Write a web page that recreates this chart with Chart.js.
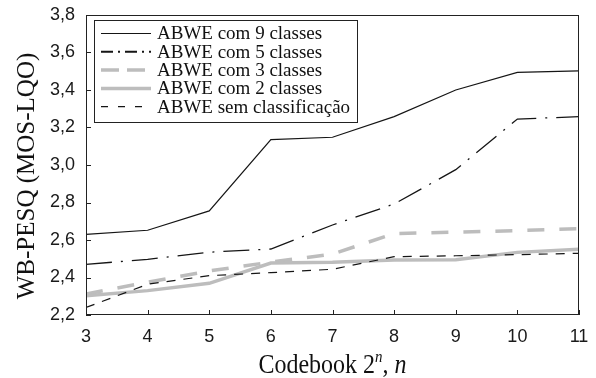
<!DOCTYPE html>
<html>
<head>
<meta charset="utf-8">
<script src="https://cdn.jsdelivr.net/npm/chart.js@4"></script>
<style>
  body { margin: 0; background: #fff; }
  canvas { display: block; }
</style>
</head>
<body>
<canvas id="chart" width="596" height="378"></canvas>
<script>
// valores
const codebookBits = [3, 4, 5, 6, 7, 8, 9, 10, 11];
const seriesNames = ['ABWE com 9 classes', 'ABWE com 5 classes', 'ABWE com 3 classes', 'ABWE com 2 classes', 'ABWE sem classificação'];
const classes9 = [2.630, 2.652, 2.755, 3.135, 3.148, 3.258, 3.400, 3.494, 3.502];
const classes5 = [2.470, 2.497, 2.535, 2.552, 2.680, 2.792, 2.975, 3.245, 3.258];
const classes3 = [2.312, 2.375, 2.435, 2.482, 2.525, 2.634, 2.642, 2.650, 2.660];
const classes2 = [2.302, 2.330, 2.369, 2.477, 2.481, 2.493, 2.495, 2.534, 2.551];
const semClass = [2.240, 2.364, 2.410, 2.426, 2.444, 2.511, 2.516, 2.522, 2.529];
const yTicks = [2.2, 2.4, 2.6, 2.8, 3.0, 3.2, 3.4, 3.6, 3.8];

const gray = '#bdbdbd';
const black = '#151515';

// estilo de cada curva: [cor, espessura, tracejado no gráfico, tracejado na legenda]
const styles = [
    [black, 1.2, [], []],
    [black, 1.3, [26, 9, 2, 9], [12, 5, 2, 5]],
    [gray, 3.5, [17, 15], [18, 8]],
    [gray, 3.5, [], []],
    [black, 1.2, [9, 8], [7, 10]]
];
const allValues = [classes9, classes5, classes3, classes2, semClass];

function points(values) {
    return codebookBits.map((n, i) => ({ x: n, y: values[i] }));
}

const datasets = allValues.map((values, i) => ({
    label: seriesNames[i],
    data: points(values),
    borderColor: styles[i][0],
    borderWidth: styles[i][1],
    borderDash: styles[i][2],
    borderCapStyle: 'butt',
    pointRadius: 0,
    tension: 0,
    fill: false,
    order: allValues.length - i
}));

// moldura, marcas internas, legenda e títulos dos eixos
const decorPlugin = {
    id: 'decor',
    afterDraw(chart) {
        const ctx = chart.ctx;
        const a = chart.chartArea;
        const sx = chart.scales.x;
        const sy = chart.scales.y;
        ctx.save();
        ctx.strokeStyle = '#222';
        ctx.lineWidth = 1;
        ctx.strokeRect(Math.round(a.left) + 0.5, Math.round(a.top) + 0.5, Math.round(a.width) - 1, Math.round(a.height) - 1);

        ctx.beginPath();
        yTicks.forEach(v => {
            const y = Math.round(sy.getPixelForValue(v)) + 0.5;
            ctx.moveTo(a.left, y);
            ctx.lineTo(a.left + 5, y);
        });
        codebookBits.forEach(n => {
            const x = Math.round(sx.getPixelForValue(n)) + 0.5;
            ctx.moveTo(x, a.bottom);
            ctx.lineTo(x, a.bottom - 5);
        });
        ctx.stroke();

        // legenda
        const box = { left: 94, top: 20, right: 357, bottom: 122 };
        ctx.fillStyle = '#fff';
        ctx.fillRect(box.left, box.top, box.right - box.left, box.bottom - box.top);
        ctx.strokeStyle = '#222';
        ctx.lineWidth = 1;
        ctx.strokeRect(box.left + 0.5, box.top + 0.5, box.right - box.left, box.bottom - box.top);
        ctx.font = '19px "Liberation Serif"';
        ctx.textBaseline = 'middle';
        ctx.textAlign = 'left';
        seriesNames.forEach((name, i) => {
            const y = 33.5 + i * 18.3;
            ctx.beginPath();
            ctx.strokeStyle = styles[i][0];
            ctx.lineWidth = styles[i][1] + (i === 1 ? 0.8 : 0);
            ctx.setLineDash(styles[i][3]);
            ctx.moveTo(101, y);
            ctx.lineTo(151, y);
            ctx.stroke();
            ctx.setLineDash([]);
            ctx.fillStyle = '#111';
            ctx.fillText(name, 157, y + 1);
        });

        // título do eixo y
        ctx.save();
        ctx.translate(27, 176);
        ctx.rotate(-Math.PI / 2);
        ctx.font = '25px "Liberation Serif"';
        ctx.textAlign = 'center';
        ctx.textBaseline = 'middle';
        ctx.fillStyle = '#111';
        ctx.fillText('WB-PESQ (MOS-LQO)', 0, 0);
        ctx.restore();

        // título do eixo x: Codebook 2^n, n
        const parts = [
            ['Codebook 2', '24px "Liberation Serif"', 0],
            ['n', 'italic 15px "Liberation Serif"', -10],
            [', ', '24px "Liberation Serif"', 0],
            ['n', 'italic 24px "Liberation Serif"', 0]
        ];
        let total = 0;
        parts.forEach(p => { ctx.font = p[1]; total += ctx.measureText(p[0]).width; });
        ctx.save();
        ctx.translate((a.left + a.right) / 2 - total / 2, 373);
        ctx.scale(1, 1.12);
        ctx.textBaseline = 'alphabetic';
        ctx.fillStyle = '#111';
        let x = 0;
        parts.forEach(p => {
            ctx.font = p[1];
            ctx.fillText(p[0], x, p[2]);
            x += ctx.measureText(p[0]).width;
        });
        ctx.restore();
        ctx.restore();
    }
};

new Chart(document.getElementById('chart'), {
    type: 'line',
    data: { datasets: datasets },
    options: {
        responsive: false,
        animation: false,
        devicePixelRatio: 1,
        layout: { padding: { top: 15, right: 17, left: 0, bottom: 0 } },
        plugins: { legend: { display: false }, tooltip: { enabled: false } },
        scales: {
            x: {
                type: 'linear',
                min: 3,
                max: 11,
                afterFit: s => { s.height = 63; },
                afterBuildTicks: s => { s.ticks = codebookBits.map(v => ({ value: v })); },
                grid: { display: false },
                border: { display: false },
                ticks: {
                    padding: 3,
                    color: '#1a1a1a',
                    font: { family: 'Liberation Sans', size: 18 },
                    maxRotation: 0,
                    autoSkip: false
                }
            },
            y: {
                min: 2.2,
                max: 3.8,
                afterFit: s => { s.width = 86; },
                afterBuildTicks: s => { s.ticks = yTicks.map(v => ({ value: v })); },
                grid: { display: false },
                border: { display: false },
                ticks: {
                    padding: 3,
                    color: '#1a1a1a',
                    font: { family: 'Liberation Sans', size: 18 },
                    callback: v => v.toFixed(1).replace('.', ',')
                }
            }
        }
    },
    plugins: [decorPlugin]
});
</script>
</body>
</html>
